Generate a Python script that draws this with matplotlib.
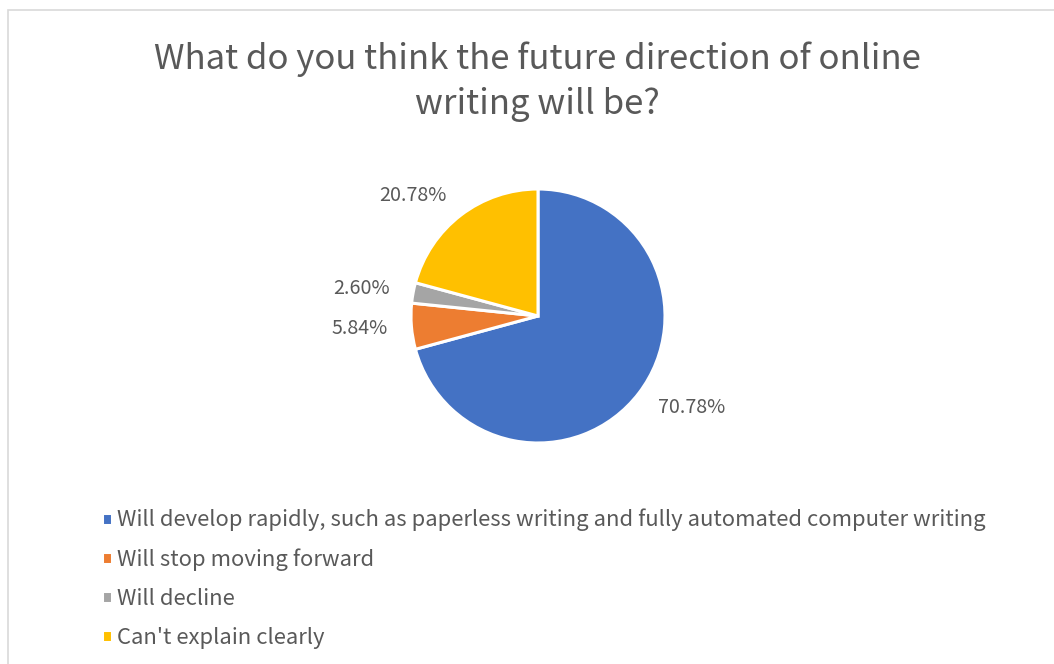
import matplotlib
matplotlib.use("Agg")
import matplotlib.pyplot as plt
from matplotlib.patches import Rectangle

title = "What do you think the future direction of online\nwriting will be?"
categories = [
    "Will develop rapidly, such as paperless writing and fully automated computer writing",
    "Will stop moving forward",
    "Will decline",
    "Can't explain clearly",
]
shares = [70.78, 5.84, 2.60, 20.78]
colors = ["#4472C4", "#ED7D31", "#A5A5A5", "#FFC000"]
text_color = "#595959"

plt.rcParams["font.family"] = ["Noto Sans CJK SC", "DejaVu Sans"]

W, H = 1054, 664
fig = plt.figure(figsize=(W / 100, H / 100), dpi=100)

# chart frame, light gray, running off the right and bottom edge
fig.patches.append(Rectangle((8 / W, -0.1), 1.2, 1 - 10 / H + 0.1,
                             transform=fig.transFigure, fill=False,
                             edgecolor="#D9D9D9", linewidth=1.2))

fig.text(537 / W, 1 - 82 / H, title, ha="center", va="center",
         fontsize=25, color=text_color, fontweight="light", linespacing=1.36)

r = 127
ax = fig.add_axes([(538 - r) / W, (H - 316 - r) / H, 2 * r / W, 2 * r / H])
labels = ["%.2f%%" % s for s in shares]
wedges, texts = ax.pie(shares, colors=colors, startangle=90, counterclock=False,
                       labels=labels, labeldistance=1.19,
                       wedgeprops=dict(edgecolor="white", linewidth=2.2),
                       textprops=dict(color=text_color, fontsize=14.2))
ax.set_xlim(-1, 1)
ax.set_ylim(-1, 1)
ax.set_aspect("equal")
ax.axis("off")

fig.legend(wedges, categories, loc="upper left",
           bbox_to_anchor=(93 / W, 1 - 500 / H),
           frameon=False, fontsize=15.9, labelcolor=text_color,
           handlelength=0.45, handleheight=0.45, handletextpad=0.25,
           labelspacing=0.77, borderaxespad=0)

fig.savefig("out.png", dpi=100, facecolor="white")
